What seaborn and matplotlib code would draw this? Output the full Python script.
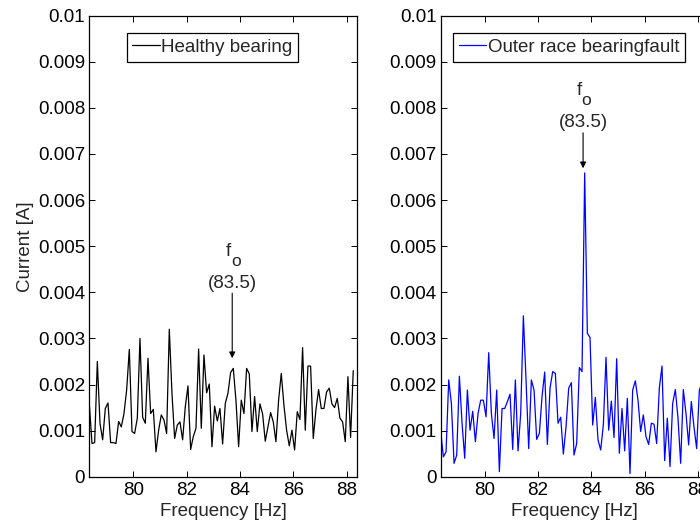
import numpy as np
import pandas as pd
import matplotlib
matplotlib.use("Agg")
import matplotlib.pyplot as plt
import seaborn as sns

# ---- data ----
f_start = 78.35
f_step = 0.1

healthy = [0.00158, 0.00072, 0.00074, 0.00250, 0.00116, 0.00080, 0.00148, 0.00160, 0.00074, 0.00074,
           0.00072, 0.00120, 0.00108, 0.00137, 0.00188, 0.00276, 0.00098, 0.00094, 0.00127, 0.00300,
           0.00129, 0.00116, 0.00257, 0.00137, 0.00146, 0.00054, 0.00101, 0.00134, 0.00123, 0.00094,
           0.00320, 0.00181, 0.00083, 0.00112, 0.00119, 0.00080, 0.00152, 0.00197, 0.00059, 0.00087,
           0.00105, 0.00277, 0.00105, 0.00264, 0.00182, 0.00201, 0.00065, 0.00153, 0.00121, 0.00148,
           0.00071, 0.00159, 0.00181, 0.00226, 0.00235, 0.00166, 0.00065, 0.00166, 0.00137, 0.00235,
           0.00223, 0.00098, 0.00174, 0.00098, 0.00158, 0.00136, 0.00077, 0.00108, 0.00139, 0.00119,
           0.00076, 0.00166, 0.00224, 0.00155, 0.00101, 0.00067, 0.00101, 0.00058, 0.00141, 0.00124,
           0.00280, 0.00101, 0.00240, 0.00240, 0.00083, 0.00145, 0.00189, 0.00148, 0.00148, 0.00184,
           0.00192, 0.00158, 0.00150, 0.00170, 0.00127, 0.00119, 0.00076, 0.00217, 0.00085, 0.00230]

faulty = [0.00098, 0.00043, 0.00054, 0.00210, 0.00159, 0.00029, 0.00047, 0.00218, 0.00116, 0.00040,
          0.00188, 0.00101, 0.00142, 0.00076, 0.00137, 0.00166, 0.00166, 0.00130, 0.00269, 0.00137,
          0.00083, 0.00188, 0.00011, 0.00148, 0.00148, 0.00163, 0.00179, 0.00059, 0.00210, 0.00056,
          0.00137, 0.00349, 0.00210, 0.00061, 0.00210, 0.00188, 0.00081, 0.00094, 0.00174, 0.00227,
          0.00070, 0.00192, 0.00228, 0.00224, 0.00116, 0.00129, 0.00049, 0.00108, 0.00192, 0.00204,
          0.00047, 0.00072, 0.00237, 0.00228, 0.00659, 0.00311, 0.00302, 0.00112, 0.00172, 0.00080,
          0.00058, 0.00112, 0.00259, 0.00101, 0.00164, 0.00085, 0.00256, 0.00051, 0.00148, 0.00056,
          0.00170, 0.00007, 0.00188, 0.00208, 0.00166, 0.00098, 0.00134, 0.00087, 0.00070, 0.00116,
          0.00114, 0.00072, 0.00192, 0.00240, 0.00035, 0.00127, 0.00022, 0.00159, 0.00189, 0.00127,
          0.00029, 0.00189, 0.00137, 0.00069, 0.00163, 0.00108, 0.00061, 0.00187, 0.00206, 0.00220]

freq = np.round(f_start + f_step * np.arange(len(healthy)), 2)

x_ticks = [80, 82, 84, 86, 88]
y_ticks = [0, 0.001, 0.002, 0.003, 0.004, 0.005, 0.006, 0.007, 0.008, 0.009, 0.01]
y_tick_labels = ["0", "0.001", "0.002", "0.003", "0.004", "0.005",
                 "0.006", "0.007", "0.008", "0.009", "0.01"]
x_lim = (78.35, 88.38)
y_lim = (0, 0.01)

df_h = pd.DataFrame({"Frequency": freq, "Current": healthy})
df_f = pd.DataFrame({"Frequency": freq, "Current": faulty})

# ---- style ----
sns.set_style("ticks")
plt.rcParams["font.family"] = ["Liberation Sans", "DejaVu Sans"]
FS = 13.5

fig = plt.figure(figsize=(7.0, 5.23), dpi=100)
ax1 = fig.add_axes([0.1276, 0.0885, 0.382, 0.8815])
ax2 = fig.add_axes([0.6296, 0.0885, 0.382, 0.8815])

sns.lineplot(data=df_h, x="Frequency", y="Current", ax=ax1, color="black",
             lw=0.9, label="Healthy bearing", sort=False, estimator=None)
sns.lineplot(data=df_f, x="Frequency", y="Current", ax=ax2, color="#0000ff",
             lw=0.9, label="Outer race bearingfault", sort=False, estimator=None)

for ax in (ax1, ax2):
    ax.set_xlim(*x_lim)
    ax.set_ylim(*y_lim)
    ax.set_xticks(x_ticks)
    ax.set_xticklabels([str(t) for t in x_ticks], fontsize=FS)
    ax.set_yticks(y_ticks)
    ax.set_yticklabels(y_tick_labels, fontsize=FS)
    ax.tick_params(direction="in", length=4, width=0.7, top=True, right=True,
                   colors="black", pad=3)
    ax.tick_params(axis="x", pad=4)
    for s in ax.spines.values():
        s.set_visible(True)
        s.set_linewidth(0.9)
        s.set_color("black")
    ax.set_xlabel("Frequency [Hz]", fontsize=FS, labelpad=2.5)
    ax.set_ylabel("")

ax1.set_ylabel("Current [A]", fontsize=FS, labelpad=3)

leg_kw = dict(loc="upper left", frameon=True, fancybox=False, shadow=False,
              fontsize=FS, handlelength=1.45, handletextpad=0.1,
              borderpad=0.3, borderaxespad=0)
l1 = ax1.legend(bbox_to_anchor=(0.14, 0.962), **leg_kw)
l2 = ax2.legend(bbox_to_anchor=(0.046, 0.962), **leg_kw)
for l in (l1, l2):
    fr = l.get_frame()
    fr.set_edgecolor("black")
    fr.set_linewidth(0.9)
    fr.set_alpha(1)

arrow_kw = dict(arrowstyle="-|>", color="black", lw=0.8, mutation_scale=9,
                shrinkA=0, shrinkB=0)


def label_fo(ax, x, y_tip, y_tail):
    ax.annotate("", xy=(x, y_tip), xytext=(x, y_tail), arrowprops=arrow_kw)
    ax.annotate("(83.5)", xy=(x, y_tail), xytext=(0, 1), textcoords="offset points",
                ha="center", va="bottom", fontsize=FS)
    ax.annotate("f", xy=(x, y_tail), xytext=(-2.5, 24), textcoords="offset points",
                ha="center", va="bottom", fontsize=FS)
    ax.annotate("o", xy=(x, y_tail), xytext=(2.5, 17.5), textcoords="offset points",
                ha="center", va="bottom", fontsize=FS - 1)


label_fo(ax1, 83.71, 0.00257, 0.00398)
label_fo(ax2, 83.69, 0.00669, 0.00746)

fig.savefig("out.png", dpi=100)
